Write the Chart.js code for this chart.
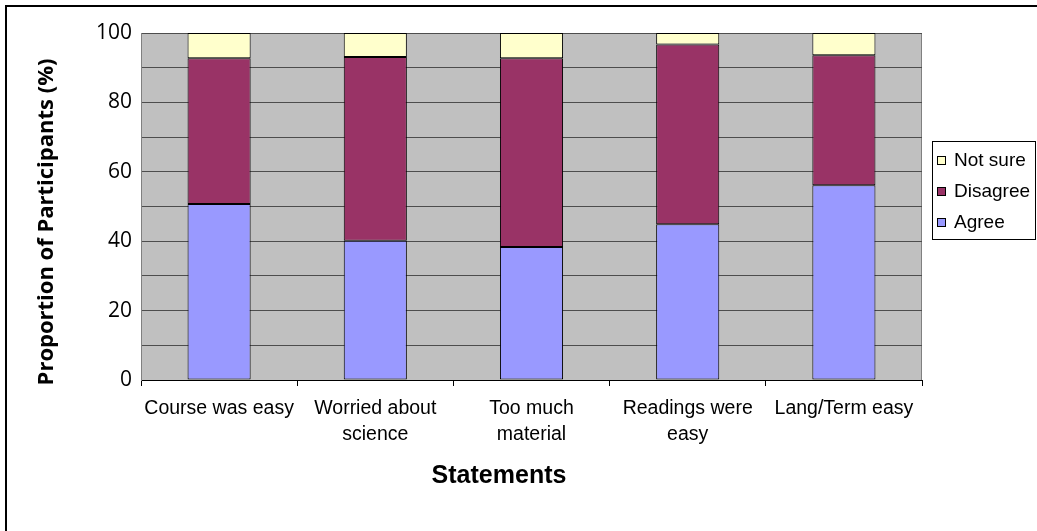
<!DOCTYPE html>
<html>
<head>
<meta charset="utf-8">
<script src="https://cdn.jsdelivr.net/npm/chart.js@4"></script>
<style>
  html, body { margin:0; padding:0; background:#fff; }
  #wrap { width:1037px; height:531px; position:relative; }
</style>
</head>
<body>
<div id="wrap"><canvas id="myChart" width="1037" height="531"></canvas></div>
<script>
// data
var statements = [
    'Course was easy',
    ['Worried about', 'science'],
    ['Too much', 'material'],
    ['Readings were', 'easy'],
    'Lang/Term easy'
];
var agree    = [50.7, 40.1, 38.3, 44.9, 56.1];
var disagree = [42.0, 53.0, 54.4, 51.8, 37.5];
var notSure  = [7.3, 6.9, 7.3, 3.3, 6.4];
var yTickLabels = ['0', '20', '40', '60', '80', '100'];

var yTitle = 'Proportion of Participants (%)';
var xTitle = 'Statements';

// plot background, outer frame, titles and the boxed legend
var decorPlugin = {
    id: 'decor',
    beforeDraw: function(chart) {
        var ctx = chart.ctx, a = chart.chartArea;
        ctx.save();
        ctx.fillStyle = '#fff';
        ctx.fillRect(0, 0, chart.width, chart.height);
        // frame (only left + top visible)
        ctx.strokeStyle = '#000';
        ctx.lineWidth = 2;
        ctx.beginPath();
        ctx.moveTo(6, chart.height + 5);
        ctx.lineTo(6, 6);
        ctx.lineTo(chart.width + 5, 6);
        ctx.stroke();
        // plot area
        ctx.fillStyle = '#c0c0c0';
        ctx.fillRect(a.left, a.top, a.right - a.left, a.bottom - a.top);
        ctx.strokeStyle = '#808080';
        ctx.lineWidth = 1;
        ctx.strokeRect(a.left + 0.5, a.top + 0.5, a.right - a.left - 1, a.bottom - a.top);
        ctx.restore();
    },
    afterDraw: function(chart) {
        var ctx = chart.ctx;
        ctx.save();
        // axis titles
        ctx.fillStyle = '#000';
        ctx.textAlign = 'center';
        ctx.textBaseline = 'middle';
        ctx.font = 'bold 25px "Liberation Sans", Arial, sans-serif';
        ctx.fillText(xTitle, 499, 476);
        ctx.translate(47, 222);
        ctx.rotate(-Math.PI / 2);
        ctx.font = 'bold 22px "Open Sans", sans-serif';
        ctx.fillText(yTitle, 0, 0);
        ctx.restore();

        // legend, reversed order like the original
        ctx.save();
        ctx.strokeStyle = '#000';
        ctx.lineWidth = 1;
        ctx.strokeRect(932.5, 141.5, 103, 98);
        ctx.font = '19px "Liberation Sans", Arial, sans-serif';
        ctx.textAlign = 'left';
        ctx.textBaseline = 'middle';
        var ds = chart.data.datasets;
        for (var i = ds.length - 1, row = 0; i >= 0; i--, row++) {
            var y = 160 + row * 31;
            ctx.fillStyle = ds[i].backgroundColor;
            ctx.fillRect(937, y - 4, 9, 9);
            ctx.strokeRect(937.5, y - 3.5, 8, 8);
            ctx.fillStyle = '#000';
            ctx.fillText(ds[i].label, 954, y + 1);
        }
        ctx.restore();
    }
};

var ctx = document.getElementById('myChart').getContext('2d');
var chart = new Chart(ctx, {
    type: 'bar',
    data: {
        labels: statements,
        datasets: [
            { label: 'Agree', data: agree, backgroundColor: '#9999ff' },
            { label: 'Disagree', data: disagree, backgroundColor: '#993366' },
            { label: 'Not sure', data: notSure, backgroundColor: '#ffffcc' }
        ]
    },
    options: {
        responsive: false,
        animation: false,
        layout: { padding: { top: 33, right: 115, left: 0, bottom: 0 } },
        datasets: {
            bar: {
                borderColor: '#000',
                borderWidth: 1,
                borderSkipped: false,
                barPercentage: 0.404,
                categoryPercentage: 1
            }
        },
        plugins: {
            legend: { display: false },
            tooltip: { enabled: false }
        },
        scales: {
            x: {
                stacked: true,
                grid: {
                    offset: true,
                    drawOnChartArea: false,
                    drawTicks: true,
                    tickLength: 6,
                    color: '#000'
                },
                border: { color: '#000' },
                ticks: {
                    color: '#000',
                    padding: 9,
                    maxRotation: 0,
                    autoSkip: false,
                    font: { family: '"Liberation Sans", Arial, sans-serif', size: 19.5, lineHeight: 1.35 }
                },
                afterFit: function(scale) { scale.height = 531 - 380; }
            },
            y: {
                stacked: true,
                min: 0,
                max: 100,
                grid: { color: '#4d4d4d', drawTicks: false },
                border: { color: '#808080' },
                ticks: {
                    stepSize: 10,
                    padding: 9,
                    color: '#000',
                    font: { family: '"Open Sans", sans-serif', size: 21 },
                    callback: function(v) {
                        return yTickLabels.indexOf(String(v)) >= 0 ? String(v) : '';
                    }
                },
                afterFit: function(scale) { scale.width = 141; }
            }
        }
    },
    plugins: [decorPlugin]
});
</script>
</body>
</html>
